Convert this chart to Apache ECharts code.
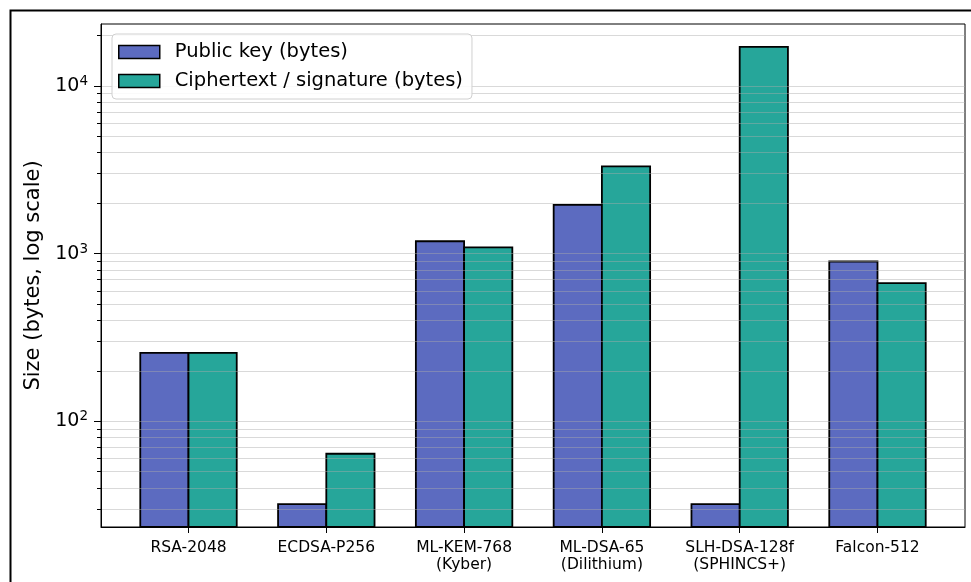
<!DOCTYPE html>
<html>
<head>
<meta charset="utf-8">
<script src="https://cdn.jsdelivr.net/npm/echarts@6/dist/echarts.min.js"></script>
<style>
  html, body { margin: 0; padding: 0; background: #fff; }
  #chart { width: 971px; height: 582px; }
</style>
</head>
<body>
<div id="chart"></div>
<script>
// Key and ciphertext/signature sizes for classical and post-quantum schemes
const categories = ['RSA-2048', 'ECDSA-P256', 'ML-KEM-768\n(Kyber)', 'ML-DSA-65\n(Dilithium)', 'SLH-DSA-128f\n(SPHINCS+)', 'Falcon-512'];
const publicKeyBytes = [256, 32, 1184, 1952, 32, 897];
const ciphertextBytes = [256, 64, 1088, 3309, 17088, 666];
const seriesNames = ['Public key (bytes)', 'Ciphertext / signature (bytes)'];
const majorTicks = [100, 1000, 10000];
const minorTicks = [30, 40, 50, 60, 70, 80, 90, 200, 300, 400, 500, 600, 700, 800, 900,
                    2000, 3000, 4000, 5000, 6000, 7000, 8000, 9000, 20000];

const FONT = 'DejaVu Sans';
const BAR_W = 0.35;
const Y_MIN = 23.4, Y_MAX = 23400;
const X_MIN = -0.635, X_MAX = 5.635;
const colors = ['#5c6bc0', '#26a69a'];

const chart = echarts.init(document.getElementById('chart'), null, { renderer: 'canvas' });

// side = -1 draws the bar left of the category centre, +1 to the right
function barRenderer(side) {
  return function (params, api) {
    const i = api.value(0);
    const v = api.value(1);
    const x0 = side < 0 ? i - BAR_W : i;
    const x1 = side < 0 ? i : i + BAR_W;
    const pTop = api.coord([x0, v]);
    const pRight = api.coord([x1, v]);
    const bottom = params.coordSys.y + params.coordSys.height;
    return {
      type: 'rect',
      shape: { x: pTop[0], y: pTop[1], width: pRight[0] - pTop[0], height: bottom - pTop[1] },
      style: { fill: api.visual('color'), stroke: '#000', lineWidth: 1.8 }
    };
  };
}

const gridLineStyle = { color: 'rgba(170,170,170,0.45)', width: 1 };

chart.setOption({
  animation: false,
  backgroundColor: '#fff',
  graphic: [{
    type: 'rect',
    shape: { x: 10.5, y: 10.5, width: 1000, height: 700 },
    style: { fill: 'none', stroke: '#000', lineWidth: 2 },
    silent: true
  }],
  grid: {
    left: 101, top: 24, right: 6, bottom: 55,
    show: true, borderColor: '#000', borderWidth: 1, backgroundColor: 'transparent'
  },
  legend: {
    orient: 'vertical',
    left: 112, top: 34,
    padding: [7, 9, 7, 6],
    itemWidth: 41, itemHeight: 13, itemGap: 7,
    backgroundColor: 'rgba(255,255,255,0.85)',
    borderColor: '#d0d0d0', borderWidth: 1, borderRadius: 4,
    textStyle: { fontFamily: FONT, fontSize: 19.5, color: '#000', lineHeight: 22, padding: [0, 0, 0, 10] },
    data: seriesNames.map((n, k) => ({
      name: n, icon: 'rect',
      itemStyle: { color: colors[k], borderColor: '#000', borderWidth: 1.5 }
    }))
  },
  xAxis: {
    type: 'value', min: X_MIN, max: X_MAX,
    axisLine: { show: true, onZero: false, lineStyle: { color: '#000', width: 1 } },
    axisTick: { show: true, length: 6, customValues: [0, 1, 2, 3, 4, 5], lineStyle: { color: '#000' } },
    axisLabel: {
      customValues: [0, 1, 2, 3, 4, 5],
      formatter: v => categories[Math.round(v)],
      fontFamily: FONT, fontSize: 15.5, color: '#000', lineHeight: 17, margin: 12
    },
    splitLine: { show: false }
  },
  yAxis: [{
    type: 'log', logBase: 10, min: Y_MIN, max: Y_MAX, z: 3,
    name: 'Size (bytes, log scale)', nameLocation: 'middle', nameGap: 57,
    nameTextStyle: { fontFamily: FONT, fontSize: 21, color: '#000' },
    axisLine: { show: true, onZero: false, lineStyle: { color: '#000', width: 1 } },
    axisTick: { show: true, length: 7, customValues: majorTicks, lineStyle: { color: '#000' } },
    axisLabel: {
      customValues: majorTicks,
      margin: 13,
      formatter: v => '{b|10}{s|' + Math.round(Math.log10(v)) + '}',
      rich: {
        b: { fontFamily: FONT, fontSize: 19, color: '#000' },
        s: { fontFamily: FONT, fontSize: 13.5, color: '#000', padding: [0, 0, 9, 0] }
      }
    },
    splitLine: { show: true, lineStyle: gridLineStyle }
  }, {
    type: 'log', logBase: 10, min: Y_MIN, max: Y_MAX, z: 3,
    position: 'left',
    axisLine: { show: false, onZero: false },
    axisTick: { show: true, length: 4, customValues: minorTicks, lineStyle: { color: '#000' } },
    axisLabel: { show: false },
    splitLine: { show: true, lineStyle: gridLineStyle }
  }],
  series: [
    {
      name: seriesNames[0], type: 'custom', renderItem: barRenderer(-1),
      itemStyle: { color: colors[0] }, encode: { x: 0, y: 1 }, z: 2,
      data: publicKeyBytes.map((v, i) => [i, v])
    },
    {
      name: seriesNames[1], type: 'custom', renderItem: barRenderer(1),
      itemStyle: { color: colors[1] }, encode: { x: 0, y: 1 }, z: 2,
      data: ciphertextBytes.map((v, i) => [i, v])
    }
  ]
});
</script>
</body>
</html>
